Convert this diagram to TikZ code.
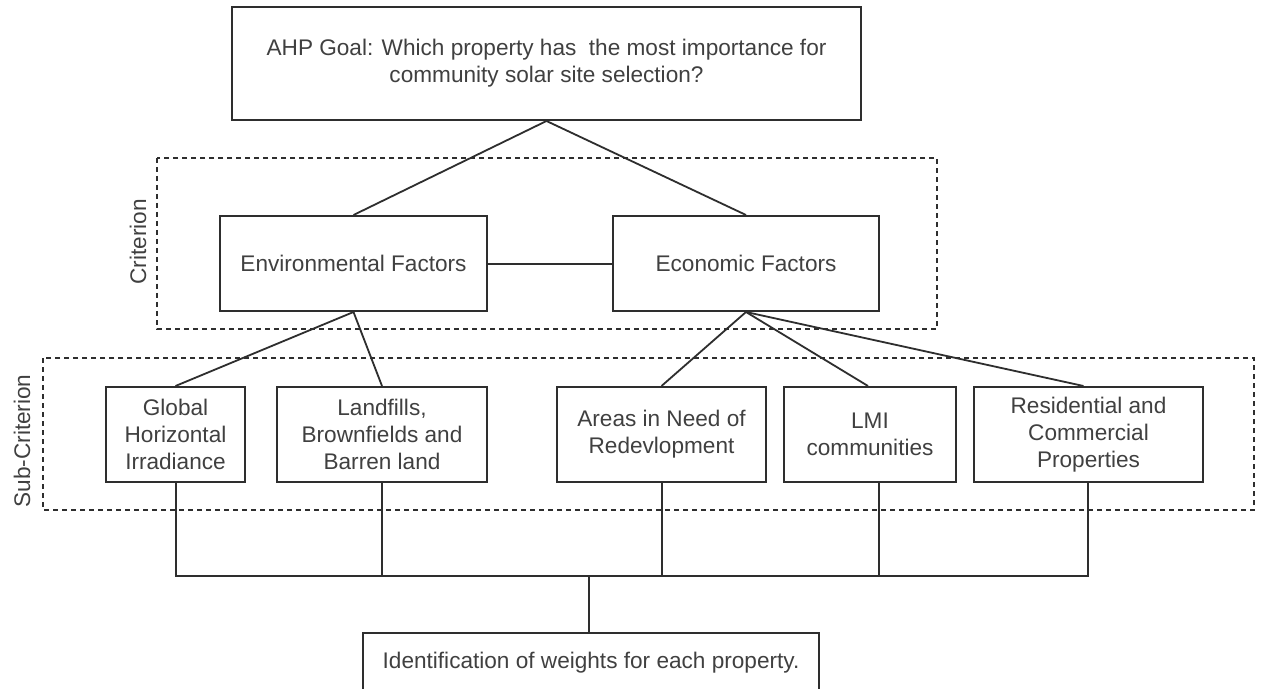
\documentclass[tikz,border=0pt]{standalone}
\usepackage{fontspec}
\setmainfont{Liberation Sans}
\definecolor{linec}{HTML}{2E2E2E}
\definecolor{textc}{HTML}{404040}
\tikzset{
  box/.style={draw=linec, line width=1pt, fill=white, inner sep=0pt, align=center,
    text=textc, font=\fontsize{11.3}{13.5}\selectfont},
  conn/.style={draw=linec, line width=0.9pt},
  groupbox/.style={draw=linec, line width=0.8pt, dash pattern=on 2.5pt off 2pt},
  grouplabel/.style={text=textc, font=\fontsize{11.3}{13.5}\selectfont, rotate=90, inner sep=0pt}
}
\begin{document}
\begin{tikzpicture}[x=0.5pt, y=-0.5pt]
\clip (0,0) rectangle (1261,689);
\fill[white] (0,0) rectangle (1261,689);
% group frames
\draw[groupbox] (157,158) rectangle (937,329);
\draw[groupbox] (43,358) rectangle (1254,510);
\node[grouplabel] (critlbl) at (138,242) {Criterion};
\node[grouplabel] (sublbl) at (22,441) {Sub-Criterion};
% nodes
\node[box, minimum width=314.5pt, minimum height=56.5pt] (goal) at (546.5,63.5)
  {AHP Goal: Which property has\ \ the most importance for\\community solar site selection?};
\node[box, minimum width=133.5pt, minimum height=47.5pt] (env) at (353.5,263.5) {Environmental Factors};
\node[box, minimum width=133pt, minimum height=47.5pt] (econ) at (746,263.5) {Economic Factors};
\node[box, minimum width=69.5pt, minimum height=47.5pt] (ghi) at (175.5,434.5) {Global\\Horizontal\\Irradiance};
\node[box, minimum width=105pt, minimum height=47.5pt] (land) at (382,434.5) {Landfills,\\Brownfields and\\Barren land};
\node[box, minimum width=104.5pt, minimum height=47.5pt] (areas) at (661.5,434.5) {Areas in Need of\\Redevlopment};
\node[box, minimum width=86pt, minimum height=47.5pt] (lmi) at (870,434.5) {LMI\\communities};
\node[box, minimum width=114.5pt, minimum height=47.5pt] (res) at (1088.5,434.5) {Residential and\\Commercial\\Properties};
\node[box, minimum width=228pt, minimum height=30pt] (final) at (591,663) {Identification of weights for each property.};
% connectors
\draw[conn] (goal.south) -- (env.north);
\draw[conn] (goal.south) -- (econ.north);
\draw[conn] ([yshift=-0.25pt]env.east) -- ([yshift=-0.25pt]econ.west);
\draw[conn] (env.south) -- (ghi.north);
\draw[conn] (env.south) -- (land.north);
\draw[conn] (econ.south) -- (areas.north);
\draw[conn] (econ.south) -- ([xshift=-1pt]lmi.north);
\draw[conn] (econ.south) -- ([xshift=-2.5pt]res.north);
\coordinate (bus) at (589,576);
\draw[conn] ([xshift=0.25pt]ghi.south) |- (bus);
\draw[conn] (land.south) |- (bus);
\draw[conn] ([xshift=0.25pt]areas.south) |- (bus);
\draw[conn] ([xshift=4.5pt]lmi.south) |- (bus);
\draw[conn] ([xshift=-0.25pt]res.south) |- (bus);
\draw[conn] (bus) -- (bus |- final.north);
\end{tikzpicture}
\end{document}
